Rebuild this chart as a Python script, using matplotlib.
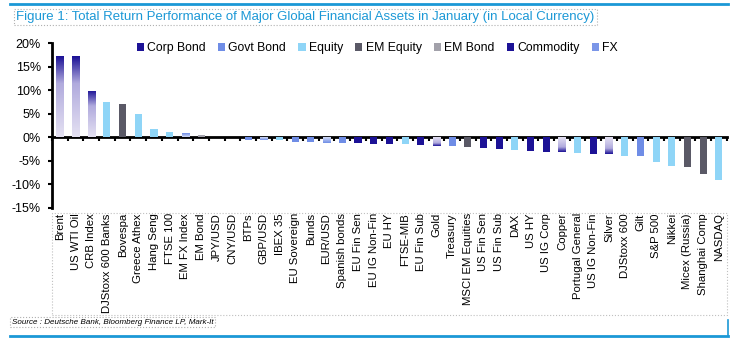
import matplotlib.pyplot as plt
import numpy as np
from matplotlib.colors import LinearSegmentedColormap
from matplotlib.patches import Patch, Rectangle
from matplotlib.lines import Line2D

assets = ['Brent', 'US WTI Oil', 'CRB Index', 'DJStoxx 600 Banks', 'Bovespa',
          'Greece Athex', 'Hang Seng', 'FTSE 100', 'EM FX Index', 'EM Bond',
          'JPY/USD', 'CNY/USD', 'BTPs', 'GBP/USD', 'IBEX 35', 'EU Sovereign',
          'Bunds', 'EUR/USD', 'Spanish bonds', 'EU Fin Sen', 'EU IG Non-Fin',
          'EU HY', 'FTSE-MIB', 'EU Fin Sub', 'Gold', 'Treasury',
          'MSCI EM Equities', 'US Fin Sen', 'US Fin Sub', 'DAX', 'US HY',
          'US IG Corp', 'Copper', 'Portugal General', 'US IG Non-Fin', 'Silver',
          'DJStoxx 600', 'Gilt', 'S&P 500', 'Nikkei', 'Micex (Russia)',
          'Shanghai Comp', 'NASDAQ']
returns = [17.2, 17.2, 9.9, 7.4, 7.0,
           5.0, 1.8, 1.1, 0.8, 0.5,
           0.0, -0.05, -0.5, -0.5, -0.6, -1.1,
           -1.1, -1.2, -1.2, -1.3, -1.4,
           -1.4, -1.5, -1.7, -1.8, -1.8,
           -2.0, -2.3, -2.5, -2.7, -3.0,
           -3.1, -3.1, -3.3, -3.5, -3.6,
           -3.9, -4.0, -5.3, -6.2, -6.4,
           -7.8, -9.0]
groups = ['Commodity', 'Commodity', 'Commodity', 'Equity', 'EM Equity',
          'Equity', 'Equity', 'Equity', 'FX', 'EM Bond',
          'FX', 'FX', 'Govt Bond', 'FX', 'Equity', 'Govt Bond',
          'Govt Bond', 'FX', 'Govt Bond', 'Corp Bond', 'Corp Bond',
          'Corp Bond', 'Equity', 'Corp Bond', 'Commodity', 'Govt Bond',
          'EM Equity', 'Corp Bond', 'Corp Bond', 'Equity', 'Corp Bond',
          'Corp Bond', 'Commodity', 'Equity', 'Corp Bond', 'Commodity',
          'Equity', 'Govt Bond', 'Equity', 'Equity', 'EM Equity',
          'EM Equity', 'Equity']
legend_order = ['Corp Bond', 'Govt Bond', 'Equity', 'EM Equity', 'EM Bond',
                'Commodity', 'FX']

colors = {'Corp Bond': '#1c1296', 'Govt Bond': '#6f8de6', 'Equity': '#8fd5f7',
          'EM Equity': '#5a5966', 'EM Bond': '#a2a1aa', 'Commodity': '#1c1296',
          'FX': '#7b96e8'}
gradients = {
    'Commodity': LinearSegmentedColormap.from_list(
        'comm', ['#e4e1f2', '#cbc6e8', '#b0aadd', '#1c1296']),
    'FX': LinearSegmentedColormap.from_list('fx', ['#d4dcf6', '#6f8de6']),
}

blue = '#1b98d6'
fig = plt.figure(figsize=(7.4, 3.45), dpi=100)
plt.rcParams['font.family'] = ['Liberation Sans', 'DejaVu Sans']
ax = fig.add_axes([0.0703, 0.398, 0.9117, 0.4765])

x = np.arange(len(assets))
w = 0.45
grad = np.linspace(0, 1, 100).reshape(-1, 1)
for xi, v, g in zip(x, returns, groups):
    if g in gradients:
        bar = ax.bar(xi, v, width=w, color='none', edgecolor='none')[0]
        if v != 0:
            im = ax.imshow(grad, extent=[xi - w / 2, xi + w / 2, 0, v],
                           origin='lower', aspect='auto', cmap=gradients[g],
                           zorder=2)
            im.set_clip_path(bar)
    else:
        ax.bar(xi, v, width=w, color=colors[g], zorder=2)

ax.set_xlim(-0.5, len(assets) - 0.5)
ax.set_ylim(-15, 20)
ax.set_yticks(np.arange(-15, 21, 5))
ax.set_yticklabels([f'{t}%' for t in range(-15, 21, 5)], fontsize=9)
ax.set_xticks(x)
ax.set_xticklabels(assets, rotation=90, fontsize=8.2)
ax.tick_params(axis='x', length=0, pad=4)
ax.tick_params(axis='y', direction='out', length=3, width=1.5, pad=5)
for s in ['top', 'right', 'bottom']:
    ax.spines[s].set_visible(False)
ax.spines['left'].set_linewidth(2)

zero = ax.secondary_xaxis(15 / 35)
zero.set_xticks(np.arange(len(assets) + 1) - 0.5)
zero.set_xticklabels([])
zero.tick_params(direction='out', length=3, width=1.5)
zero.spines['bottom'].set_linewidth(2)

handles = [Patch(facecolor=colors[g], label=g) for g in legend_order]
ax.legend(handles=handles, loc='upper center', bbox_to_anchor=(0.482, 1.075),
          ncol=7, frameon=False, fontsize=8.8, handlelength=0.6,
          handleheight=0.6, handletextpad=0.25, columnspacing=1.0)

fig.text(0.022, 0.951, 'Figure 1: Total Return Performance of Major Global '
         'Financial Assets in January (in Local Currency)', color=blue,
         fontsize=9.5, va='center',
         bbox=dict(facecolor='none', edgecolor='#b0b0b0', linestyle=':',
                   pad=1.5, lw=0.8))
fig.text(0.016, 0.066, 'Source : Deutsche Bank, Bloomberg Finance LP, Mark-It',
         fontsize=5.8, style='italic', va='center',
         bbox=dict(facecolor='none', edgecolor='#b0b0b0', linestyle=':',
                   pad=1, lw=0.8))

fig.add_artist(Line2D([0.014, 0.984], [0.988, 0.988], color=blue, lw=2))
fig.add_artist(Line2D([0.014, 0.984], [0.027, 0.027], color=blue, lw=2))
fig.add_artist(Line2D([0.984, 0.984], [0.027, 0.072], color=blue, lw=1.2))
fig.add_artist(Rectangle((0.0703, 0.087), 0.9117, 0.297, fill=False,
                         edgecolor='#c0c0c0', linestyle=':', lw=0.8))

fig.savefig('out.png', dpi=100)
